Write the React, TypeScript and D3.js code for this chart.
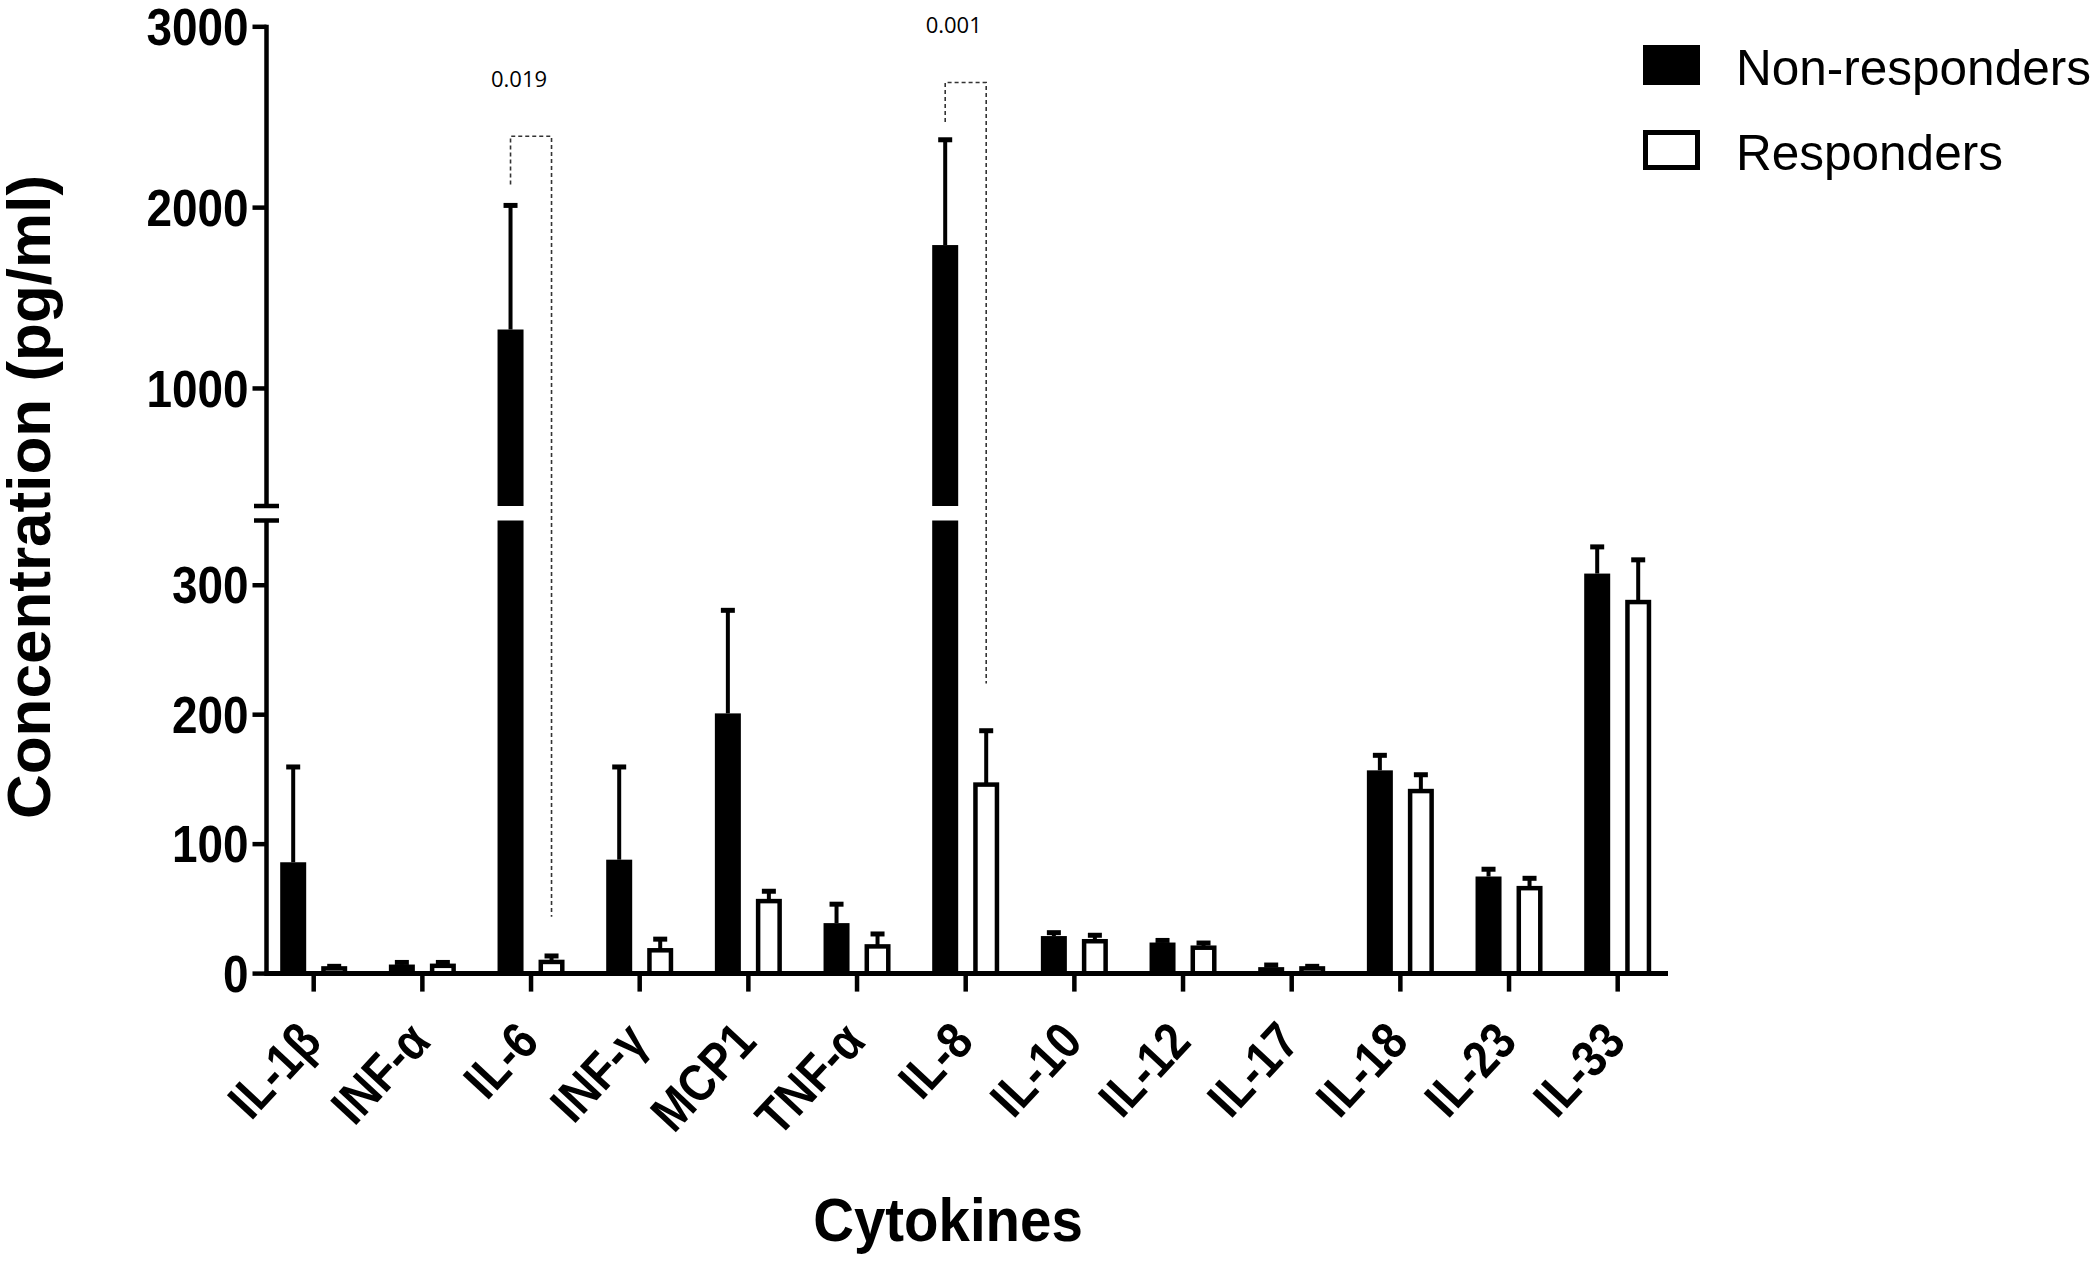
import React from "react";
import * as d3 from "d3";

const categories = ["IL-1β", "INF-α", "IL-6", "INF-γ", "MCP1", "TNF-α", "IL-8", "IL-10", "IL-12", "IL-17", "IL-18", "IL-23", "IL-33"];
const series = ["Non-responders", "Responders"];
const nonResponders = [86, 7, 1326, 88, 201, 39, 1793, 29, 24, 5, 157, 75, 309];
const nonRespondersErr = [74, 2, 689, 72, 80, 15, 585, 3, 2, 2, 12, 6, 21];
const responders = [4, 6, 9, 18, 56, 21, 146, 25, 20, 4, 141, 66, 287];
const respondersErr = [2, 3, 5, 9, 8, 10, 42, 5, 4, 2, 13, 8, 33];
const lowTicks = [0, 100, 200, 300];
const highTicks = [1000, 2000, 3000];
const breakValue = 350;
const maxValue = 3000;
const brackets = [
  { cat: "IL-6", top: 2395, leftEnd: 2128, rightEnd: 44, label: "0.019" },
  { cat: "IL-8", top: 2692, leftEnd: 2473, rightEnd: 224, label: "0.001" },
];

const SANS = "'Liberation Sans', Arial, sans-serif";

export default function App() {
  const W = 2100;
  const H = 1263;
  const axisX = 266.5;
  const axisEnd = 1668;
  const baseY = 973.6;

  const x = d3.scalePoint<string>().domain(categories).range([313.7, 1617.7]);
  const xSub = d3.scaleBand<string>().domain(series).range([-33.5, 33.5]).paddingInner(0.366);
  const bw = xSub.bandwidth();
  const yLow = d3.scaleLinear().domain([0, breakValue]).range([baseY, 520.5]);
  const yHigh = d3.scaleLinear().domain([breakValue, maxValue]).range([506, 26.8]);
  const y = (v: number) => (v <= breakValue ? yLow(v) : yHigh(v));

  const groups = [
    { name: series[0], vals: nonResponders, errs: nonRespondersErr, filled: true },
    { name: series[1], vals: responders, errs: respondersErr, filled: false },
  ];

  const sw = 4.5;

  const bars: React.ReactNode[] = [];
  const errs: React.ReactNode[] = [];
  groups.forEach((g) => {
    categories.forEach((c, i) => {
      const v = g.vals[i];
      const e = g.errs[i];
      const x0 = (x(c) as number) + (xSub(g.name) as number);
      const segs =
        v > breakValue
          ? [
              [yLow(0), yLow(breakValue)],
              [yHigh(breakValue), yHigh(v)],
            ]
          : [[yLow(0), yLow(v)]];
      segs.forEach(([yb, yt], k) => {
        if (g.filled) {
          bars.push(<rect key={`${g.name}-${c}-${k}`} x={x0} y={yt} width={bw} height={yb - yt} fill="#000" />);
        } else {
          bars.push(
            <rect
              key={`${g.name}-${c}-${k}`}
              x={x0 + sw / 2}
              y={yt}
              width={bw - sw}
              height={yb - yt}
              fill="#fff"
              stroke="#000"
              strokeWidth={sw}
            />
          );
        }
      });
      const cx = x0 + bw / 2;
      const yTop = y(v + e);
      errs.push(
        <g key={`err-${g.name}-${c}`}>
          <line x1={cx} x2={cx} y1={y(v)} y2={yTop} stroke="#000" strokeWidth={4} />
          <line x1={cx - 7} x2={cx + 7} y1={yTop + 0.5} y2={yTop + 0.5} stroke="#000" strokeWidth={5} />
        </g>
      );
    });
  });

  const tickFont = 51;

  return (
    <div style={{ position: "absolute", left: 0, top: 0, width: W, height: H, background: "#fff" }}>
      <svg width={W} height={H} viewBox={`0 0 ${W} ${H}`} style={{ display: "block" }}>
        <rect width={W} height={H} fill="#fff" />
        {bars}
        {errs}

        {/* significance brackets */}
        {brackets.map((b) => {
          const c = x(b.cat) as number;
          const lx = c + (xSub(series[0]) as number) + bw / 2;
          const rx = c + (xSub(series[1]) as number) + bw / 2;
          const ty = y(b.top);
          return (
            <g key={b.cat}>
              <path
                d={`M${lx},${y(b.leftEnd)} V${ty} H${rx} V${y(b.rightEnd)}`}
                fill="none"
                stroke="#333"
                strokeWidth={1.6}
                strokeDasharray="4,3"
              />
              <text
                x={(lx + rx) / 2 - 12}
                y={ty - 49}
                textAnchor="middle"
                fontFamily="'Open Sans', 'Noto Sans', sans-serif"
                fontSize={22}
                fill="#000"
              >
                {b.label}
              </text>
            </g>
          );
        })}

        {/* Y axis (broken) */}
        <line x1={axisX} x2={axisX} y1={yHigh(maxValue) - 2} y2={yHigh(breakValue)} stroke="#000" strokeWidth={sw} />
        <line x1={axisX} x2={axisX} y1={yLow(breakValue)} y2={baseY + 2} stroke="#000" strokeWidth={sw} />
        <line x1={axisX - 12.5} x2={axisX + 12.5} y1={yHigh(breakValue)} y2={yHigh(breakValue)} stroke="#000" strokeWidth={sw} />
        <line x1={axisX - 12.5} x2={axisX + 12.5} y1={yLow(breakValue)} y2={yLow(breakValue)} stroke="#000" strokeWidth={sw} />
        {[...lowTicks.map((t) => ({ t, yy: yLow(t) })), ...highTicks.map((t) => ({ t, yy: yHigh(t) }))].map(({ t, yy }) => (
          <g key={`yt-${t}`}>
            <line x1={axisX - 14} x2={axisX} y1={yy} y2={yy} stroke="#000" strokeWidth={sw} />
            <text
              transform={`translate(${axisX - 18},${yy + tickFont * 0.355}) scale(0.9,1)`}
              textAnchor="end"
              fontFamily={SANS}
              fontWeight="bold"
              fontSize={tickFont}
              fill="#000"
            >
              {t}
            </text>
          </g>
        ))}

        {/* X axis */}
        <line x1={axisX - 2} x2={axisEnd} y1={baseY} y2={baseY} stroke="#000" strokeWidth={sw + 0.5} />
        {categories.map((c) => {
          const cx = x(c) as number;
          return (
            <g key={`xt-${c}`}>
              <line x1={cx} x2={cx} y1={baseY} y2={baseY + 18} stroke="#000" strokeWidth={sw} />
              <text
                transform={`translate(${cx + 10},${baseY + 70}) rotate(-47) scale(0.86,1)`}
                textAnchor="end"
                fontFamily={SANS}
                fontWeight="bold"
                fontSize={52}
                fill="#000"
              >
                {c}
              </text>
            </g>
          );
        })}

        {/* Axis titles */}
        <text
          transform={`translate(50,497) rotate(-90)`}
          textAnchor="middle"
          fontFamily={SANS}
          fontWeight="bold"
          fontSize={62}
          fill="#000"
        >
          Concentration (pg/ml)
        </text>
        <text
          transform={`translate(948,1241) scale(0.91,1)`}
          textAnchor="middle"
          fontFamily={SANS}
          fontWeight="bold"
          fontSize={62}
          fill="#000"
        >
          Cytokines
        </text>

        {/* Legend */}
        {series.map((s, i) => {
          const ly = 45 + i * 85;
          return (
            <g key={`lg-${s}`}>
              {i === 0 ? (
                <rect x={1643} y={ly} width={57} height={40} fill="#000" />
              ) : (
                <rect x={1643 + 2.5} y={ly + 2.5} width={52} height={35} fill="#fff" stroke="#000" strokeWidth={5} />
              )}
              <text x={1736} y={ly + 40} fontFamily={SANS} fontSize={49.5} fill="#000">
                {s}
              </text>
            </g>
          );
        })}
      </svg>
    </div>
  );
}
